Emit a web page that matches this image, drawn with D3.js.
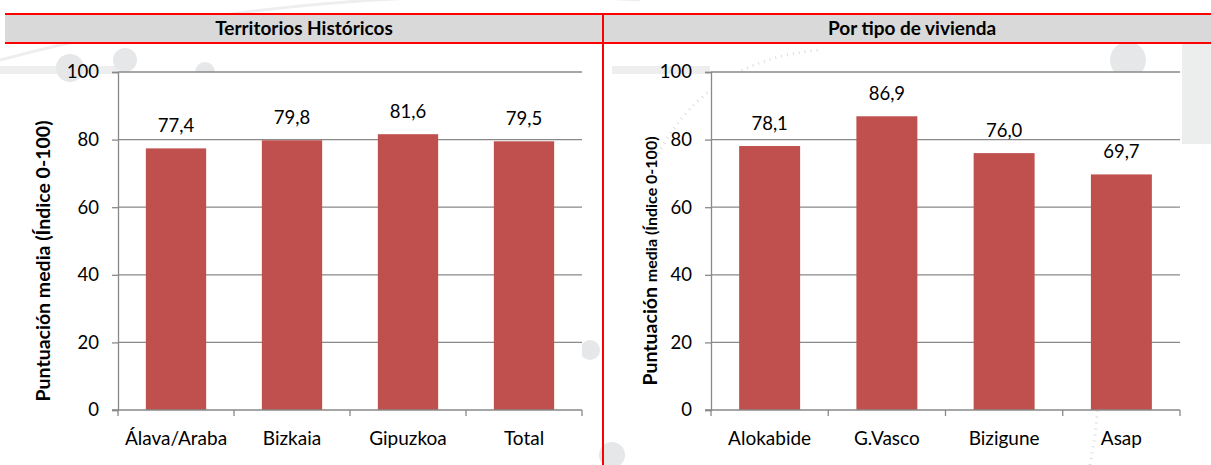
<!DOCTYPE html>
<html>
<head>
<meta charset="utf-8">
<script src="https://cdn.jsdelivr.net/npm/d3@7"></script>
<style>
  body { margin: 0; background: #fff; }
  svg { display: block; font-family: Lato, "Open Sans", sans-serif; }
</style>
</head>
<body>
<div id="chart"></div>
<script>
// data
const territorios = ["Álava/Araba", "Bizkaia", "Gipuzkoa", "Total"]
const territoriosValues = [77.4, 79.8, 81.6, 79.5]
const viviendas = ["Alokabide", "G.Vasco", "Bizigune", "Asap"]
const viviendasValues = [78.1, 86.9, 76.0, 69.7]
const yTicks = [0, 20, 40, 60, 80, 100]

const W = 1211, H = 465
const BAR = "#c0504d", GRID = "#898989", RED = "#ff0000"

const svg = d3.select("#chart").append("svg")
    .attr("width", W)
    .attr("height", H)

// faint background decoration
const deco = svg.append("g").attr("fill", "#e6e7e8").attr("stroke", "none")
deco.append("path")
    .attr("d", "M0,60 Q300,-20 640,0")
    .attr("fill", "none").attr("stroke", "#eeeeee").attr("stroke-width", 3)
deco.append("rect").attr("x", 0).attr("y", 66).attr("width", 118).attr("height", 8).attr("fill", "#eeeeee")
deco.append("rect").attr("x", 612).attr("y", 66).attr("width", 98).attr("height", 8).attr("fill", "#eeeeee")
;[[70, 68, 14], [125, 60, 12], [205, 72, 10], [612, 455, 13], [1128, 60, 18], [590, 350, 10]].forEach(c => {
    deco.append("circle").attr("cx", c[0]).attr("cy", c[1]).attr("r", c[2])
})
deco.append("rect").attr("x", 1182).attr("y", 44).attr("width", 29).attr("height", 100).attr("fill", "#eceded")
deco.append("path")
    .attr("d", "M650,170 Q700,60 820,50")
    .attr("fill", "none").attr("stroke", "#dddddd").attr("stroke-width", 3).attr("stroke-dasharray", "1,5")
deco.append("path")
    .attr("d", "M1090,465 Q1110,360 1090,250")
    .attr("fill", "none").attr("stroke", "#dddddd").attr("stroke-width", 3).attr("stroke-dasharray", "1,5")

// header band
svg.append("rect")
    .attr("x", 5).attr("y", 13)
    .attr("width", W - 5).attr("height", 30)
    .attr("fill", "#d9d9d9")
svg.append("line").attr("x1", 5).attr("x2", W).attr("y1", 14).attr("y2", 14)
    .attr("stroke", RED).attr("stroke-width", 2)
svg.append("line").attr("x1", 5).attr("x2", W).attr("y1", 43).attr("y2", 43)
    .attr("stroke", RED).attr("stroke-width", 2)
svg.append("line").attr("x1", 603).attr("x2", 603).attr("y1", 13).attr("y2", H)
    .attr("stroke", RED).attr("stroke-width", 2)

function drawPanel(title, cats, values, opts) {
    let g = svg.append("g")

    g.append("text")
        .attr("x", opts.titleX).attr("y", 35)
        .attr("text-anchor", "middle")
        .attr("font-size", "19px")
        .attr("font-weight", "bold")
        .text(title)

    let x = d3.scaleBand()
        .domain(cats)
        .range([opts.left, opts.right])
        .paddingInner(0.48)
        .paddingOuter(0.24)

    let y = d3.scaleLinear()
        .domain([0, 100])
        .range([410, 72])

    // plot background
    g.append("rect")
        .attr("x", opts.left).attr("y", 72)
        .attr("width", opts.right - opts.left).attr("height", 338)
        .attr("fill", "#fff")

    // gridlines
    g.selectAll(".grid")
        .data(yTicks.filter(d => d > 0))
        .enter().append("line")
        .attr("x1", opts.left).attr("x2", opts.right)
        .attr("y1", d => y(d)).attr("y2", d => y(d))
        .attr("stroke", GRID).attr("stroke-width", 1.3)

    // y axis
    let yAxis = d3.axisLeft(y).tickValues(yTicks).tickSize(6).tickPadding(13)
    let ya = g.append("g")
        .attr("transform", "translate(" + opts.left + ",0)")
        .call(yAxis)
    ya.select(".domain").attr("stroke", GRID).attr("stroke-width", 1.3)
    ya.selectAll(".tick line").attr("stroke", GRID).attr("stroke-width", 1.3)
    ya.selectAll("text")
        .attr("font-size", "18.5px")
        .attr("font-family", "Lato, sans-serif")
        .attr("fill", "#000")

    // bars
    g.selectAll(".bar")
        .data(cats)
        .enter().append("rect")
        .attr("x", d => x(d))
        .attr("y", (d, i) => y(values[i]))
        .attr("width", x.bandwidth())
        .attr("height", (d, i) => 410 - y(values[i]))
        .attr("fill", BAR)

    // value labels
    g.selectAll(".val")
        .data(cats)
        .enter().append("text")
        .attr("x", d => x(d) + x.bandwidth() / 2)
        .attr("y", (d, i) => y(values[i]) - 16.5)
        .attr("text-anchor", "middle")
        .attr("font-size", "18.5px")
        .text((d, i) => values[i].toFixed(1).replace(".", ","))

    // x axis
    let xa = g.append("g").attr("transform", "translate(0,410)")
    xa.append("line")
        .attr("x1", opts.left - 6).attr("x2", opts.right)
        .attr("stroke", GRID).attr("stroke-width", 1.3)
    let step = (opts.right - opts.left) / cats.length
    xa.selectAll(".xt")
        .data(d3.range(cats.length + 1))
        .enter().append("line")
        .attr("x1", d => opts.left + d * step).attr("x2", d => opts.left + d * step)
        .attr("y1", 0).attr("y2", 6)
        .attr("stroke", GRID).attr("stroke-width", 1.3)
    xa.selectAll(".xl")
        .data(cats)
        .enter().append("text")
        .attr("x", d => x(d) + x.bandwidth() / 2)
        .attr("y", 35)
        .attr("text-anchor", "middle")
        .attr("font-size", "19px")
        .text(d => d)

    // y axis title
    let yt = g.append("text")
        .attr("transform", "translate(" + opts.yTitleX + ",261) rotate(-90)")
        .attr("text-anchor", "middle")
        .attr("font-weight", "bold")
        .attr("font-size", "19.5px")
    yt.append("tspan").text("Puntuación ")
    yt.append("tspan").attr("font-size", opts.ySubSize).text("media (Índice 0-100)")
}

drawPanel("Territorios Históricos", territorios, territoriosValues,
    { left: 118, right: 582, titleX: 304, yTitleX: 50, ySubSize: "19.5px" })
drawPanel("Por tipo de vivienda", viviendas, viviendasValues,
    { left: 711, right: 1180, titleX: 912, yTitleX: 657, ySubSize: "16px" })
</script>
</body>
</html>
